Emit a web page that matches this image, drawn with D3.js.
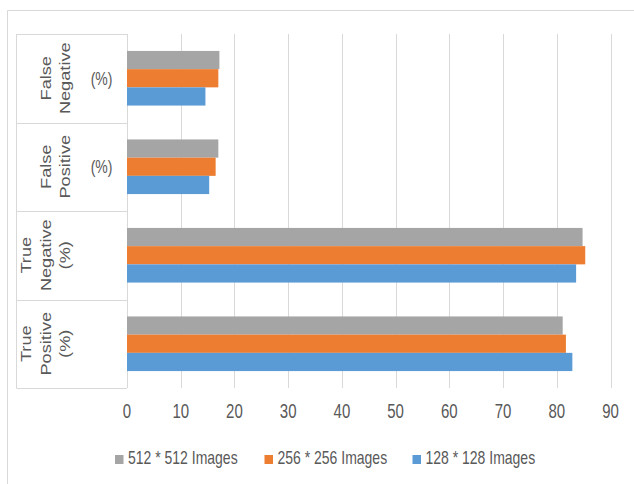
<!DOCTYPE html>
<html>
<head>
<meta charset="utf-8">
<script src="https://cdn.jsdelivr.net/npm/d3@7"></script>
<style>
  html, body { margin: 0; padding: 0; background: #fff; }
  svg { display: block; }
  text { font-family: "Liberation Sans", Arial, sans-serif; fill: #595959; }
</style>
</head>
<body>
<svg width="634" height="484"></svg>
<script>
// categories, top to bottom
const categories = ["False Negative (%)", "False Positive (%)", "True Negative (%)", "True Positive (%)"];
// how the label wraps in the original: rotated lines + an upright leftover
const rotatedLines = [["False", "Negative"], ["False", "Positive"], ["True", "Negative", "(%)"], ["True", "Positive", "(%)"]];
const uprightLines = ["(%)", "(%)", "", ""];

const seriesNames = ["512 * 512 Images", "256 * 256 Images", "128 * 128 Images"];
const values512 = [17.2, 17.0, 84.8, 81.1];
const values256 = [17.0, 16.5, 85.3, 81.7];
const values128 = [14.6, 15.3, 83.6, 82.9];
const seriesColors = ["#a5a5a5", "#ed7d31", "#5b9bd5"];
const xTicks = [0, 10, 20, 30, 40, 50, 60, 70, 80, 90];

const seriesValues = [values512, values256, values128];
const rows = categories.map((c, i) => ({
    cat: c,
    vals: seriesNames.map((s, j) => ({ series: s, value: seriesValues[j][i] }))
}));

const svg = d3.select("svg");
const stretch = 1.3; // text in the reference is drawn a bit tall

const x = d3.scaleLinear().domain([0, 90]).range([127, 610.5]);
const yRow = d3.scaleBand().domain(categories).range([34, 388]).padding(0);
const yBar = d3.scaleBand().domain(seriesNames).range([0, yRow.bandwidth()]).paddingInner(0).paddingOuter(0.93);
const color = d3.scaleOrdinal().domain(seriesNames).range(seriesColors);

const lineColor = "#d9d9d9";

// outer chart frame (runs off the right and bottom edge)
svg.append("path")
    .attr("d", "M7.5,640 V10.5 H700")
    .attr("fill", "none")
    .attr("stroke", lineColor);

// gridlines
svg.append("g").selectAll("line").data(xTicks).enter().append("line")
    .attr("x1", d => Math.round(x(d)) + 0.5)
    .attr("x2", d => Math.round(x(d)) + 0.5)
    .attr("y1", 34)
    .attr("y2", 388)
    .attr("stroke", lineColor);

// category table
const tableLeft = 16.5;
svg.append("g").selectAll("line").data(categories.concat(["end"])).enter().append("line")
    .attr("x1", tableLeft)
    .attr("x2", x(0))
    .attr("y1", (d, i) => Math.round(i < categories.length ? yRow(d) : yRow.range()[1]) + 0.5)
    .attr("y2", (d, i) => Math.round(i < categories.length ? yRow(d) : yRow.range()[1]) + 0.5)
    .attr("stroke", lineColor);
svg.append("line")
    .attr("x1", tableLeft).attr("x2", tableLeft)
    .attr("y1", 34).attr("y2", 388)
    .attr("stroke", lineColor);

// bars
const groups = svg.append("g").selectAll("g").data(rows).enter().append("g")
    .attr("transform", d => `translate(0,${yRow(d.cat)})`);
groups.selectAll("rect").data(d => d.vals).enter().append("rect")
    .attr("x", x(0))
    .attr("y", d => yBar(d.series))
    .attr("width", d => x(d.value) - x(0))
    .attr("height", yBar.bandwidth())
    .attr("fill", d => color(d.series));

// category labels
categories.forEach(function(c, i) {
    const cy = yRow(c) + yRow.bandwidth() / 2;
    const lines = rotatedLines[i];
    lines.forEach(function(t, k) {
        const cx = 65.5 - (lines.length - 1 - k) * 19.5;
        svg.append("text")
            .attr("transform", `translate(${cx},${cy}) rotate(-90) scale(${stretch},1)`)
            .attr("text-anchor", "middle")
            .attr("dy", "0.35em")
            .style("font-size", "14px")
            .text(t);
    });
    if (uprightLines[i]) {
        svg.append("text")
            .attr("transform", `translate(101.5,${cy}) scale(1,${stretch})`)
            .attr("text-anchor", "middle")
            .attr("dy", "0.35em")
            .style("font-size", "14px")
            .text(uprightLines[i]);
    }
});

// x tick labels
svg.append("g").selectAll("text").data(xTicks).enter().append("text")
    .attr("transform", d => `translate(${x(d)},418) scale(1,${stretch})`)
    .attr("text-anchor", "middle")
    .style("font-size", "15px")
    .text(d => d);

// legend
const legendX = [115, 264.5, 412.5];
const legend = svg.append("g").selectAll("g").data(seriesNames).enter().append("g")
    .attr("transform", (d, i) => `translate(${legendX[i]},0)`);
legend.append("rect")
    .attr("x", 0).attr("y", 455)
    .attr("width", 8.5).attr("height", 9)
    .attr("fill", d => color(d));
legend.append("text")
    .attr("transform", `translate(13,463.5) scale(1,${stretch})`)
    .style("font-size", "14px")
    .text(d => d);
</script>
</body>
</html>
